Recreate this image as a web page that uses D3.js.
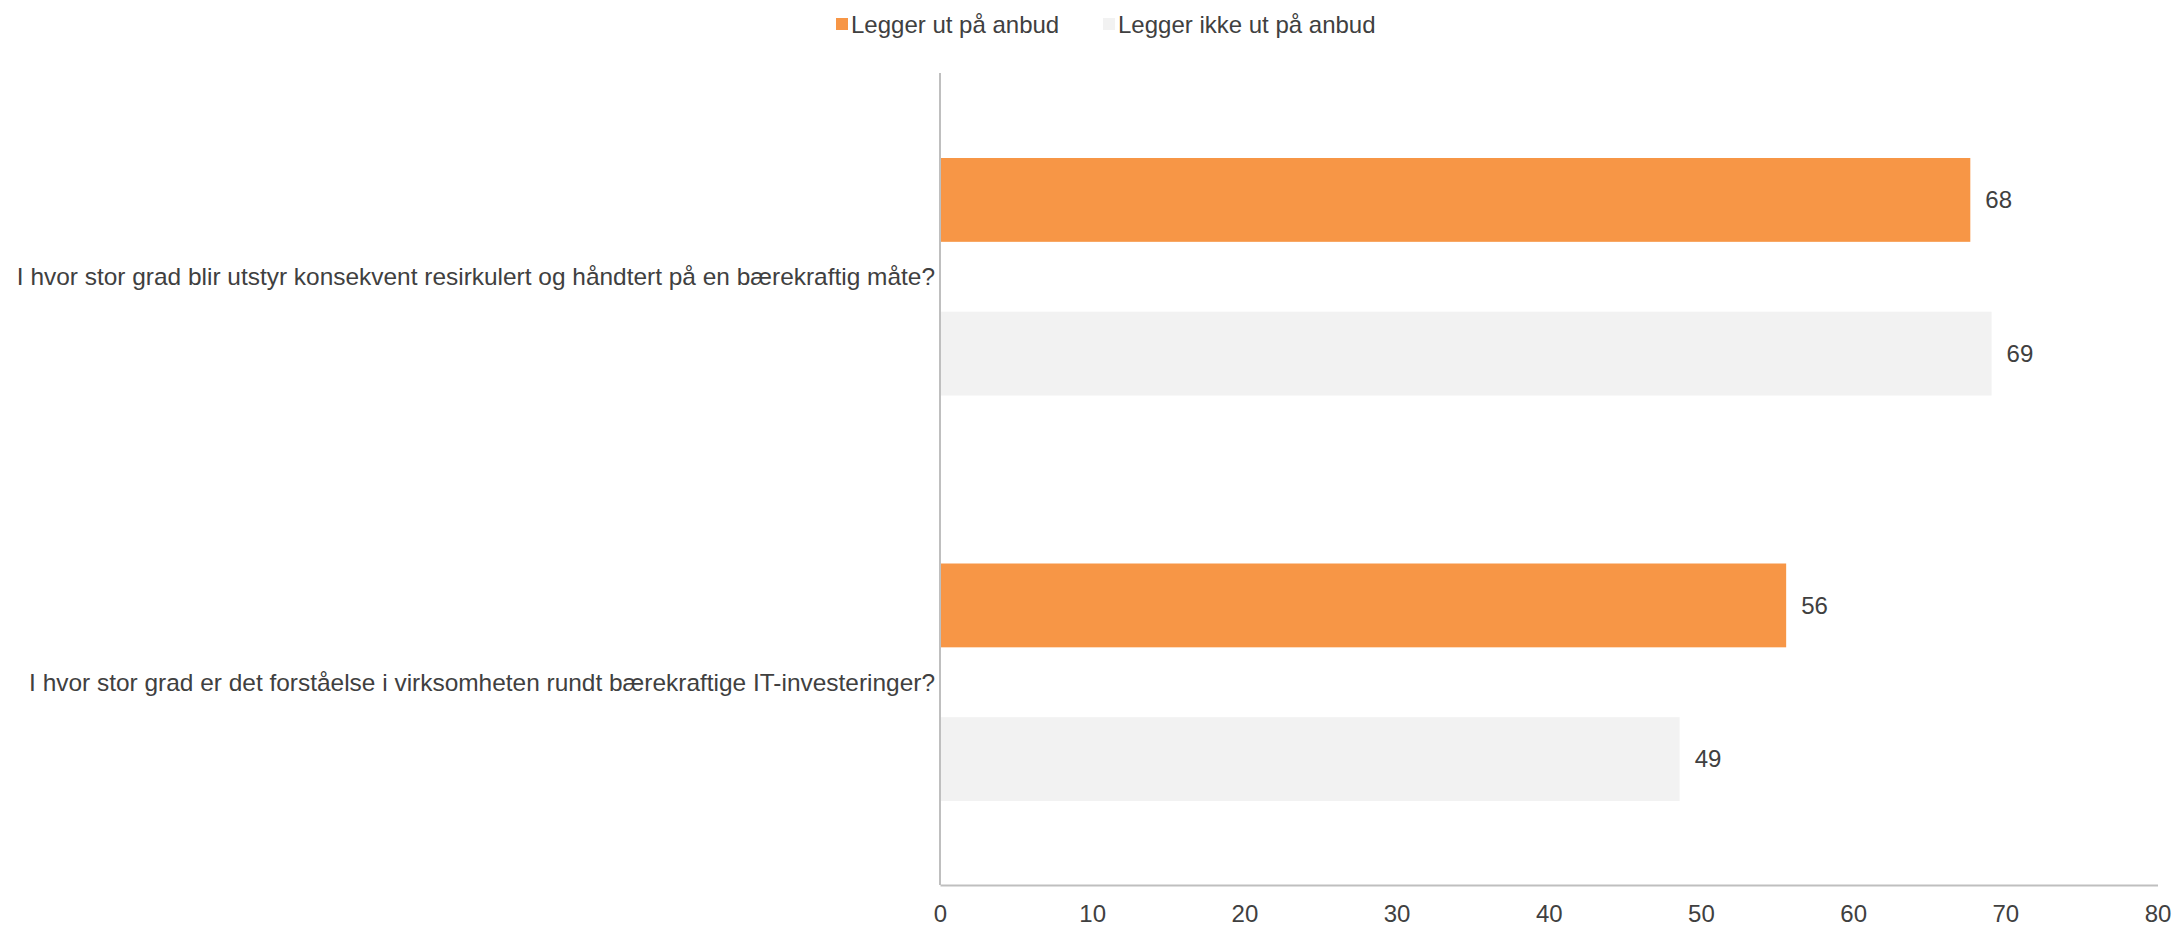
<!DOCTYPE html>
<html><head><meta charset="utf-8">
<script src="https://cdn.jsdelivr.net/npm/d3@7"></script>
<style>body{margin:0;background:#fff;} text{font-family:"Liberation Sans",Arial,sans-serif;}</style>
</head><body>
<svg id="c" width="2178" height="926"></svg>
<script>
const categories = [
  "I hvor stor grad blir utstyr konsekvent resirkulert og håndtert på en bærekraftig måte?",
  "I hvor stor grad er det forståelse i virksomheten rundt bærekraftige IT-investeringer?"
];
const seriesNames = ["Legger ut på anbud", "Legger ikke ut på anbud"];
const anbud = [67.7, 55.6];
const ikkeAnbud = [69.1, 48.6];
const dataLabels = [["68", "56"], ["69", "49"]];
const xTicks = [0, 10, 20, 30, 40, 50, 60, 70, 80];
const colors = ["#F79646", "#F2F2F2"];

(function(){
const svg = d3.select("#c");
const mLeft = 940, mRight = 2157.5, mTop = 74, mBottom = 885;
const fs = 24;
const x = d3.scaleLinear().domain([0, 80]).range([mLeft, mRight]);
const y0 = d3.scaleBand().domain(categories).range([mTop, mBottom]).padding(0);
const y1 = d3.scaleBand().domain(seriesNames).range([84, y0.bandwidth() - 84]).paddingInner(70/154).paddingOuter(0);
const series = [anbud, ikkeAnbud];
const textColor = "#404040";

categories.forEach((c, ci) => {
  seriesNames.forEach((s, si) => {
    const v = series[si][ci];
    const yy = y0(c) + y1(s);
    svg.append("rect").attr("x", x(0)).attr("y", yy).attr("width", x(v) - x(0)).attr("height", y1.bandwidth()).attr("fill", colors[si]);
    svg.append("text").attr("x", x(v) + 15).attr("y", yy + y1.bandwidth()/2).attr("dy", "0.35em")
      .attr("font-size", fs).attr("fill", textColor).text(dataLabels[si][ci]);
  });
  svg.append("text").attr("x", mLeft - 5).attr("y", y0(c) + y0.bandwidth()/2).attr("dy", "0.35em")
    .attr("text-anchor", "end").attr("font-size", 24.45).attr("fill", textColor).text(c);
});

const xAxis = d3.axisBottom(x).tickValues(xTicks).tickSize(0).tickPadding(20);
const gx = svg.append("g").attr("transform", `translate(0,${mBottom})`).call(xAxis);
gx.select(".domain").attr("stroke", "#BFBFBF").attr("stroke-width", 2);
gx.selectAll("text").attr("font-size", fs).attr("fill", textColor).attr("font-family", "Liberation Sans, Arial, sans-serif");
svg.append("line").attr("x1", mLeft).attr("x2", mLeft).attr("y1", mTop - 1).attr("y2", mBottom).attr("stroke", "#BFBFBF").attr("stroke-width", 2);

const legX = [836, 1103];
seriesNames.forEach((s, i) => {
  svg.append("rect").attr("x", legX[i]).attr("y", 18).attr("width", 12).attr("height", 12).attr("fill", colors[i]);
  svg.append("text").attr("x", legX[i] + 15).attr("y", 33).attr("font-size", fs).attr("fill", textColor).text(s);
});
})();
</script>
</body></html>
